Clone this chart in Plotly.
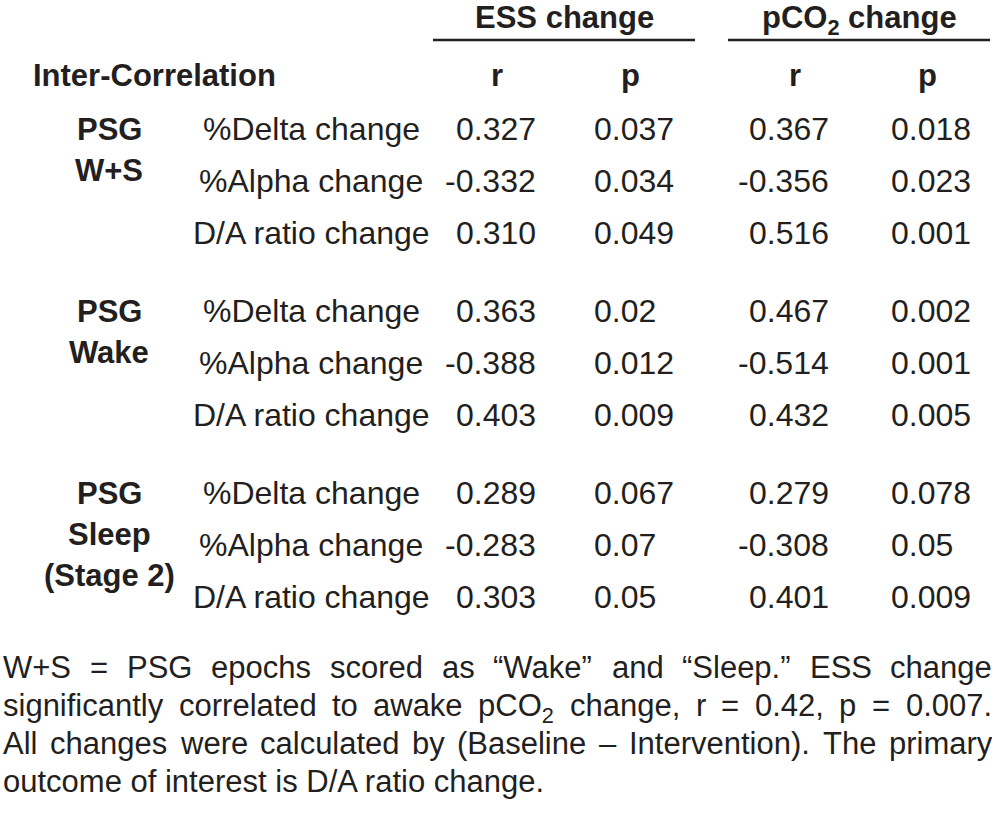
import plotly.graph_objects as go

# ---------------- data ----------------
col_groups = ["ESS change", "pCO<sub>2</sub> change"]
col_stats = ["r", "p", "r", "p"]
corner_label = "Inter-Correlation"
group_labels = [["PSG", "W+S"], ["PSG", "Wake"], ["PSG", "Sleep", "(Stage 2)"]]
measures = ["%Delta change", "%Alpha change", "D/A ratio change"]
ess_r = [["0.327", "-0.332", "0.310"], ["0.363", "-0.388", "0.403"], ["0.289", "-0.283", "0.303"]]
ess_p = [["0.037", "0.034", "0.049"], ["0.02", "0.012", "0.009"], ["0.067", "0.07", "0.05"]]
pco2_r = [["0.367", "-0.356", "0.516"], ["0.467", "-0.514", "0.432"], ["0.279", "-0.308", "0.401"]]
pco2_p = [["0.018", "0.023", "0.001"], ["0.002", "0.001", "0.005"], ["0.078", "0.05", "0.009"]]
footnote_lines = [
    "W+S = PSG epochs scored as “Wake” and “Sleep.” ESS change",
    "significantly correlated to awake pCO<sub>2</sub> change, r = 0.42, p = 0.007.",
    "All changes were calculated by (Baseline – Intervention). The primary",
    "outcome of interest is D/A ratio change.",
]

# ---------------- style ----------------
FONT = "Liberation Sans, Arial, sans-serif"
INK = "#231f20"
BODY = 32
BOLD = 31
FOOT = 31
W, H = 992, 815

# Liberation Sans / Arial advance widths, per 1000 em
AW = {' ': 278, 'a': 556, 'b': 556, 'c': 500, 'd': 556, 'e': 556, 'f': 278, 'g': 556, 'h': 556,
      'i': 222, 'j': 222, 'k': 500, 'l': 222, 'm': 833, 'n': 556, 'o': 556, 'p': 556, 'q': 556,
      'r': 333, 's': 500, 't': 278, 'u': 556, 'v': 500, 'w': 722, 'x': 500, 'y': 500, 'z': 500,
      'A': 667, 'B': 667, 'C': 722, 'D': 722, 'E': 667, 'F': 611, 'G': 778, 'H': 722, 'I': 278,
      'J': 500, 'K': 667, 'L': 556, 'M': 833, 'N': 722, 'O': 778, 'P': 667, 'Q': 778, 'R': 722,
      'S': 667, 'T': 611, 'U': 722, 'V': 667, 'W': 944, 'X': 667, 'Y': 667, 'Z': 611,
      '.': 278, ',': 278, '=': 584, '+': 584, '(': 333, ')': 333, '/': 278, '–': 556,
      '“': 333, '”': 333, '-': 333, '%': 889}


def text_width(word, size):
    if "<sub>" in word:
        pre, rest = word.split("<sub>")
        sub, post = rest.split("</sub>")
        units = sum(AW.get(c, 556) for c in pre + post) + 0.7 * sum(AW.get(c, 556) for c in sub)
    else:
        units = sum(AW.get(c, 556) for c in word)
    return units / 1000 * size


fig = go.Figure()
ann = []


def txt(x, y, s, size=BODY, bold=False, xanchor="center"):
    if "<sub>" in s:
        y += 3  # subscript enlarges the text box; keep baseline in line
    ann.append(dict(x=x, y=y, xref="x", yref="y", text=f"<b>{s}</b>" if bold else s,
                    showarrow=False, xanchor=xanchor, yanchor="middle",
                    font=dict(family=FONT, size=size, color=INK)))


# header
group_centers = [564, 859]
for c, g in zip(group_centers, col_groups):
    txt(c, 17, g, size=BOLD, bold=True)
shapes = [
    dict(type="line", xref="x", yref="y", x0=433, x1=695, y0=40, y1=40, line=dict(color=INK, width=2.5)),
    dict(type="line", xref="x", yref="y", x0=728, x1=990, y0=40, y1=40, line=dict(color=INK, width=2.5)),
]
txt(31, 75, corner_label, size=BOLD, bold=True, xanchor="left")
stat_x = [497, 630, 795, 927]
for x, s in zip(stat_x, col_stats):
    txt(x, 75, s, size=BOLD, bold=True)

# body
group_y0 = [129, 311, 493]
row_step = 52
label_step = 41
for gi, y0 in enumerate(group_y0):
    for li, lab in enumerate(group_labels[gi]):
        txt(109, y0 + li * label_step, lab, size=BOLD, bold=True)
    for ri, m in enumerate(measures):
        y = y0 + ri * row_step
        txt(311, y, m)
        txt(538, y, ess_r[gi][ri], xanchor="right")
        txt(592, y, ess_p[gi][ri], xanchor="left")
        txt(831, y, pco2_r[gi][ri], xanchor="right")
        txt(889, y, pco2_p[gi][ri], xanchor="left")

# footnote (justified)
foot_y0, foot_step = 667, 38
left, right = 1, 990
for li, line in enumerate(footnote_lines):
    y = foot_y0 + li * foot_step
    if li == len(footnote_lines) - 1:
        txt(left, y, line, size=FOOT, xanchor="left")
        continue
    words = line.split(" ")
    widths = [text_width(w, FOOT) for w in words]
    gap = (right - left - sum(widths)) / (len(words) - 1)
    x = left
    for w, wd in zip(words, widths):
        txt(x, y, w, size=FOOT, xanchor="left")
        x += wd + gap

fig.update_layout(
    width=W, height=H, margin=dict(l=0, r=0, t=0, b=0),
    paper_bgcolor="white", plot_bgcolor="white",
    xaxis=dict(range=[0, W], visible=False, fixedrange=True),
    yaxis=dict(range=[H, 0], visible=False, fixedrange=True),
    annotations=ann, shapes=shapes, showlegend=False,
)
fig.write_html("out.html", config={"displayModeBar": False},
               post_script="document.body.style.margin='0';document.body.style.overflow='hidden';")
